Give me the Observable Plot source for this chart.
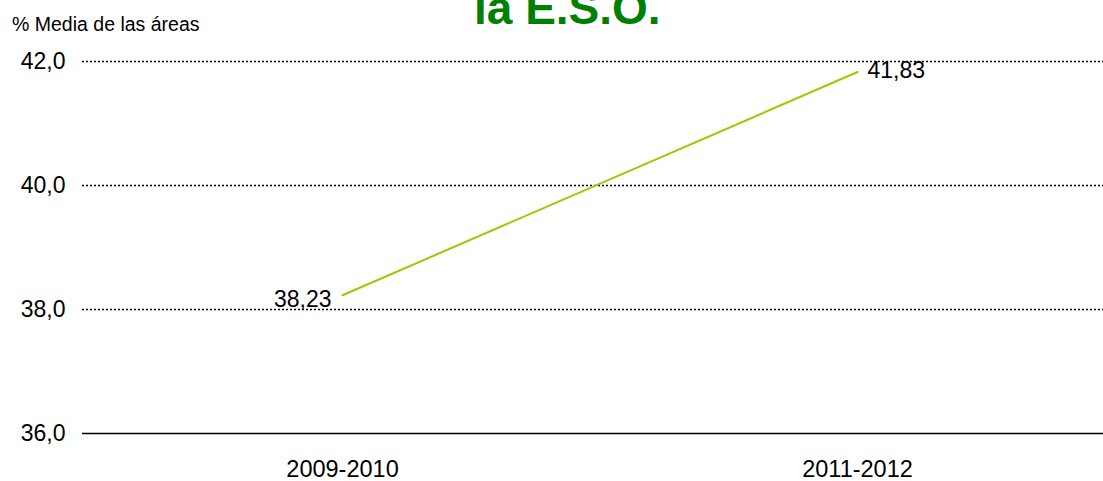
<!DOCTYPE html>
<html>
<head>
<meta charset="utf-8">
<script src="https://cdn.jsdelivr.net/npm/d3@7"></script>
<script src="https://cdn.jsdelivr.net/npm/@observablehq/plot@0.6"></script>
<style>
  html, body { margin: 0; padding: 0; background: #fff; overflow: hidden; }
  body { font-family: Arial, "Liberation Sans", sans-serif; width: 1103px; height: 481px; }
  #header { position: relative; height: 40px; width: 1103px; overflow: hidden; }
  #title { position: absolute; left: 474px; top: -15px; font-size: 46px; font-weight: bold; color: #008000; white-space: nowrap; line-height: 46px; }
  #ylabel { position: absolute; left: 12px; top: 13px; font-size: 19.5px; color: #000; white-space: nowrap; }
  #chart svg { display: block; }
</style>
</head>
<body>
<div id="header">
  <div id="title">la E.S.O.</div>
  <div id="ylabel">% Media de las áreas</div>
</div>
<div id="chart"></div>
<script>
const categories = ["2009-2010", "2011-2012"];
const values = [38.23, 41.83];
const valueLabels = ["38,23", "41,83"];
const yTicks = [36, 38, 40, 42];
const yTickLabels = ["36,0", "38,0", "40,0", "42,0"];
const gridTicks = [38, 40, 42];

const data = categories.map((c, i) => ({cat: c, value: values[i], label: valueLabels[i]}));

const chart = Plot.plot({
  width: 1103,
  height: 441,
  marginLeft: 82,
  marginRight: 0,
  marginTop: 21,
  marginBottom: 48,
  style: {fontFamily: 'Arial, "Liberation Sans", sans-serif', fontSize: "23px", color: "#000", background: "#fff"},
  x: {type: "point", domain: categories, padding: 0.5, range: [84, 1114]},
  y: {domain: [36, 42]},
  marks: [
    Plot.ruleY(gridTicks, {stroke: "#000", strokeWidth: 1.5, strokeDasharray: "2,2"}),
    Plot.ruleY([36], {stroke: "#000", strokeWidth: 1.5}),
    Plot.axisY(yTicks, {tickSize: 0, tickPadding: 17, fontSize: 23, label: null, tickFormat: (d) => yTickLabels[yTicks.indexOf(d)]}),
    Plot.axisX({tickSize: 0, tickPadding: 27, fontSize: 23.5, label: null}),
    Plot.line(data, {x: "cat", y: "value", stroke: "#99cc00", strokeWidth: 2}),
    Plot.text(data.slice(0, 1), {x: "cat", y: "value", text: "label", textAnchor: "end", dx: -11, dy: 4, fontSize: 23, fill: "#000"}),
    Plot.text(data.slice(1), {x: "cat", y: "value", text: "label", textAnchor: "start", dx: 10, dy: -1, fontSize: 23, fill: "#000"})
  ]
});
document.getElementById("chart").appendChild(chart);
</script>
</body>
</html>
